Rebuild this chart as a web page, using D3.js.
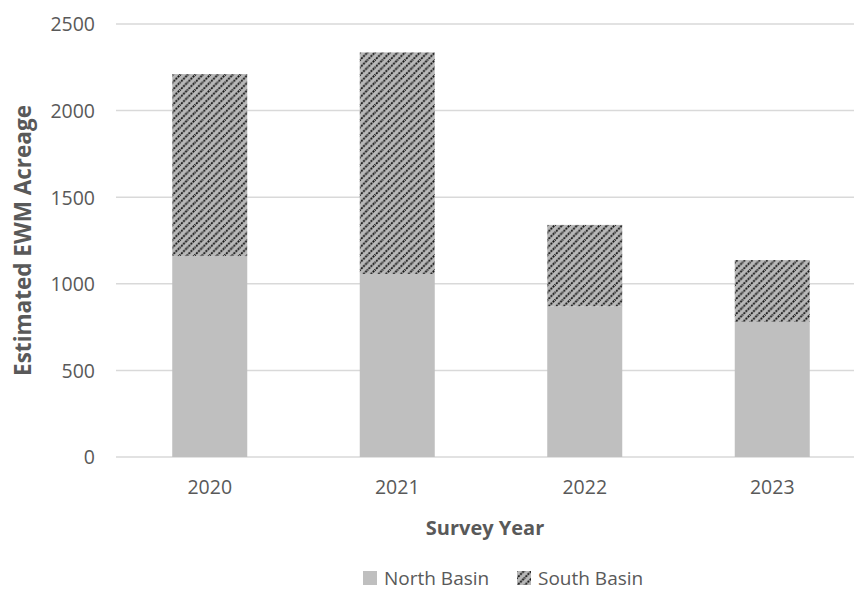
<!DOCTYPE html>
<html>
<head>
<meta charset="utf-8">
<script src="https://cdn.jsdelivr.net/npm/d3@7"></script>
<style>
  html, body { margin: 0; padding: 0; background: #fff; }
  svg { display: block; }
  text { font-family: "Open Sans", "Liberation Sans", sans-serif; fill: #595959; }
</style>
</head>
<body>
<svg id="chart" width="854" height="590"></svg>
<script>
// Estimated Eurasian watermilfoil (EWM) acreage by survey year
const years = ["2020", "2021", "2022", "2023"];
const northBasin = [1160, 1057, 870, 780];
const southBasin = [1051, 1279, 470, 357];
const seriesNames = ["North Basin", "South Basin"];
const yTicks = [0, 500, 1000, 1500, 2000, 2500];

const svg = d3.select("#chart");
const W = 854, H = 590;
const plot = { left: 116, right: 866, top: 24, bottom: 457 };

// Hatched fill for the South Basin series
const defs = svg.append("defs");
const pat = defs.append("pattern")
  .attr("id", "hatch")
  .attr("patternUnits", "userSpaceOnUse")
  .attr("width", 7.5).attr("height", 7.5);
pat.append("rect").attr("width", 7.5).attr("height", 7.5).attr("fill", "#b8b8b8");
pat.append("path")
  .attr("d", "M-1,8.5 L8.5,-1 M-4.75,4.75 L4.75,-4.75 M2.75,12.25 L12.25,2.75")
  .attr("stroke", "#111")
  .attr("stroke-width", 1.8)
  .attr("stroke-dasharray", "2 1");

const x = d3.scaleBand().domain(years).range([plot.left, plot.right]).paddingInner(0.6).paddingOuter(0.3);
const y = d3.scaleLinear().domain([0, 2500]).range([plot.bottom, plot.top]);

// Horizontal gridlines
svg.append("g")
  .selectAll("line")
  .data(yTicks)
  .join("line")
  .attr("x1", plot.left).attr("x2", W)
  .attr("y1", d => y(d)).attr("y2", d => y(d))
  .attr("stroke", "#d9d9d9")
  .attr("stroke-width", 1.5);

// Stacked bars
const rows = years.map((yr, i) => ({ year: yr, "North Basin": northBasin[i], "South Basin": southBasin[i] }));
const stacked = d3.stack().keys(seriesNames)(rows);
const fills = { "North Basin": "#bfbfbf", "South Basin": "url(#hatch)" };

svg.append("g")
  .selectAll("g")
  .data(stacked)
  .join("g")
  .attr("fill", d => fills[d.key])
  .selectAll("rect")
  .data(d => d)
  .join("rect")
  .attr("x", d => x(d.data.year))
  .attr("width", x.bandwidth())
  .attr("y", d => y(d[1]))
  .attr("height", d => y(d[0]) - y(d[1]));

// Y axis tick labels
const yAxis = svg.append("g")
  .attr("transform", `translate(${plot.left - 21},0)`)
  .call(d3.axisLeft(y).tickValues(yTicks).tickFormat(d3.format("d")).tickSize(0).tickPadding(0));
yAxis.select(".domain").remove();
yAxis.selectAll("text")
  .attr("font-size", 19.5)
  .attr("font-family", null)
  .attr("fill", "#595959")
  .attr("dy", "0.35em");

// X axis tick labels
const xAxis = svg.append("g")
  .attr("transform", `translate(0,${plot.bottom + 23})`)
  .call(d3.axisBottom(x).tickSize(0).tickPadding(0));
xAxis.select(".domain").remove();
xAxis.selectAll("text")
  .attr("font-size", 19.5)
  .attr("font-family", null)
  .attr("fill", "#595959");

// Axis titles
svg.append("text")
  .attr("x", (plot.left + W) / 2)
  .attr("y", 535)
  .attr("text-anchor", "middle")
  .attr("font-size", 20)
  .attr("font-weight", "bold")
  .text("Survey Year");

svg.append("text")
  .attr("transform", `translate(31,${(plot.top + plot.bottom) / 2}) rotate(-90)`)
  .attr("text-anchor", "middle")
  .attr("font-size", 22.5)
  .attr("font-weight", "bold")
  .text("Estimated EWM Acreage");

// Legend
const legend = svg.append("g").attr("transform", "translate(363,578)");
const items = [
  { name: "North Basin", fill: fills["North Basin"], x: 0 },
  { name: "South Basin", fill: fills["South Basin"], x: 154 }
];
const li = legend.selectAll("g").data(items).join("g")
  .attr("transform", d => `translate(${d.x},0)`);
li.append("rect")
  .attr("x", 0).attr("y", -7)
  .attr("width", 14).attr("height", 14)
  .attr("fill", d => d.fill);
li.append("text")
  .attr("x", 21).attr("y", 0)
  .attr("dy", "0.35em")
  .attr("font-size", 19)
  .text(d => d.name);
</script>
</body>
</html>
